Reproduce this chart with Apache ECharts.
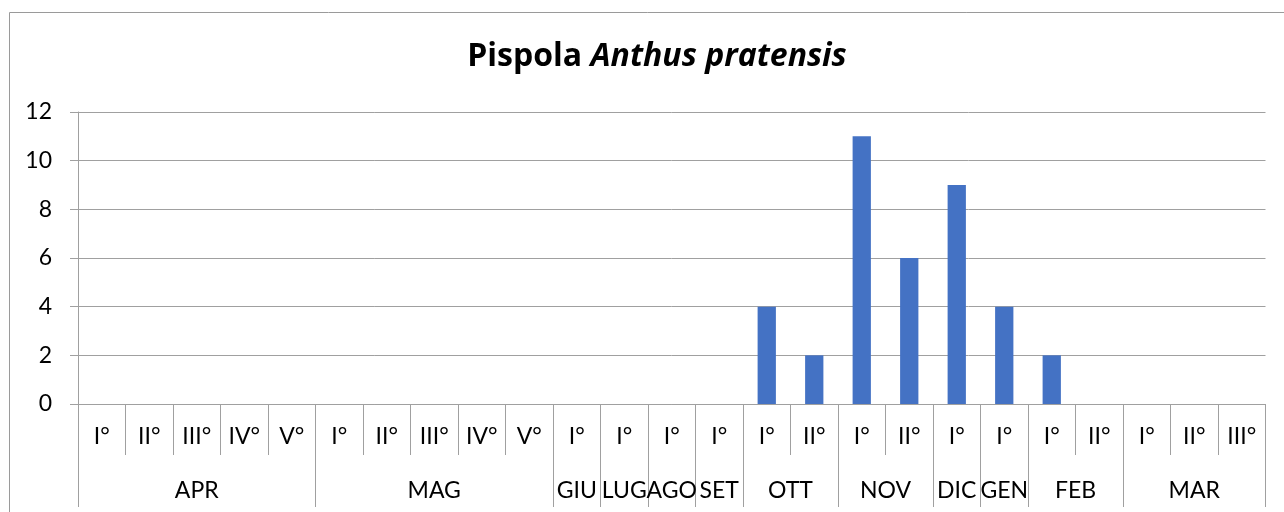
<!DOCTYPE html>
<html>
<head>
<meta charset="utf-8">
<script src="https://cdn.jsdelivr.net/npm/echarts@6/dist/echarts.min.js"></script>
<style>
  html, body { margin: 0; padding: 0; background: #fff; }
  #chart { width: 1284px; height: 512px; }
</style>
</head>
<body>
<div id="chart"></div>
<script>
// sub-periods (decadi) along the x axis
const periods = ['I°', 'II°', 'III°', 'IV°', 'V°',
  'I°', 'II°', 'III°', 'IV°', 'V°',
  'I°', 'I°', 'I°', 'I°',
  'I°', 'II°',
  'I°', 'II°',
  'I°', 'I°',
  'I°', 'II°',
  'I°', 'II°', 'III°']
const counts = [0, 0, 0, 0, 0,
  0, 0, 0, 0, 0,
  0, 0, 0, 0,
  4, 2,
  11, 6,
  9, 4,
  2, 0,
  0, 0, 0]
const months = ['APR', 'MAG', 'GIU', 'LUG', 'AGO', 'SET', 'OTT', 'NOV', 'DIC', 'GEN', 'FEB', 'MAR']
const monthSpans = [5, 5, 1, 1, 1, 1, 2, 2, 1, 1, 2, 3]
const yTicks = [0, 2, 4, 6, 8, 10, 12]

const gray = '#a0a0a0'
const font = 'Lato, "Liberation Sans", sans-serif'
const titleFont = '"Open Sans", Lato, sans-serif'

// month boundaries and label centres on a 0..N value scale
const bounds = [0]
monthSpans.forEach(s => bounds.push(bounds[bounds.length - 1] + s))
const centers = monthSpans.map((s, i) => bounds[i] + s / 2)

const chart = echarts.init(document.getElementById('chart'))

chart.setOption({
  animation: false,
  textStyle: { fontFamily: font },
  title: {
    text: '{a|Pispola }{b|Anthus pratensis}',
    left: 652,
    textAlign: 'center',
    top: 36,
    textStyle: {
      rich: {
        a: { fontFamily: titleFont, fontSize: 32, fontWeight: 'bold', color: '#000' },
        b: { fontFamily: titleFont, fontSize: 32, fontWeight: 'bold', fontStyle: 'italic', color: '#000' }
      }
    }
  },
  graphic: [{
    type: 'rect',
    shape: { x: 9.5, y: 12.5, width: 1300, height: 520 },
    style: { fill: 'none', stroke: '#9a9a9a', lineWidth: 1 },
    silent: true
  }],
  grid: { left: 78, right: 18.5, top: 112, bottom: 108 },
  xAxis: [{
    type: 'category',
    data: periods,
    boundaryGap: true,
    axisLine: { lineStyle: { color: gray, width: 1 } },
    axisTick: { show: true, interval: 0, length: 51, lineStyle: { color: gray } },
    axisLabel: { interval: 0, margin: 21, fontSize: 23, color: '#000', fontFamily: font },
    splitLine: { show: false }
  }, {
    type: 'value',
    position: 'bottom',
    min: 0,
    max: bounds[bounds.length - 1],
    axisLine: { show: false },
    splitLine: { show: false },
    axisTick: { show: true, customValues: bounds, length: 103, lineStyle: { color: gray } },
    axisLabel: {
      customValues: centers,
      margin: 75,
      fontSize: 23,
      color: '#000',
      fontFamily: font,
      formatter: v => months[centers.indexOf(v)] || ''
    }
  }],
  yAxis: {
    type: 'value',
    min: yTicks[0],
    max: yTicks[yTicks.length - 1],
    interval: 2,
    axisLine: { show: true, lineStyle: { color: gray } },
    axisTick: { show: true, length: 8, lineStyle: { color: gray } },
    axisLabel: { margin: 26, fontSize: 23, color: '#000', fontFamily: font },
    splitLine: { lineStyle: { color: gray, width: 1 } }
  },
  series: [{
    type: 'bar',
    xAxisIndex: 0,
    data: counts,
    barWidth: '38.5%',
    itemStyle: { color: '#4472c4' }
  }]
})
</script>
</body>
</html>
